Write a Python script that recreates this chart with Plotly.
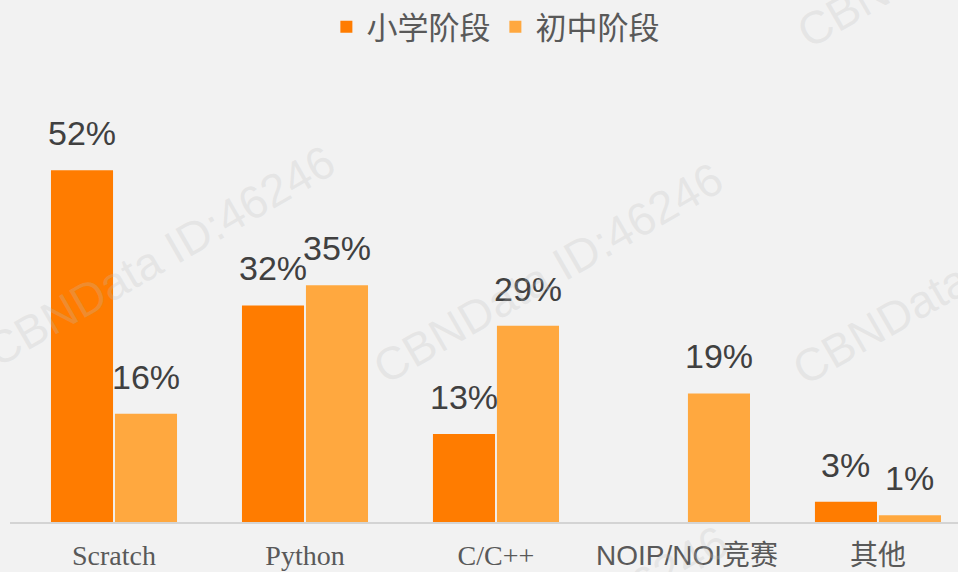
import plotly.graph_objects as go

categories = ["Scratch", "Python", "C/C++", "NOIP/NOI竞赛", "其他"]
primary = [52, 32, 13, None, 3]      # 小学阶段
secondary = [16, 35, 29, 19, 1]     # 初中阶段
series_names = ["小学阶段", "初中阶段"]
serif_cats = {"Scratch", "Python", "C/C++"}

ORANGE = "#FF7C00"
LIGHT = "#FFA83F"
LABEL = "#404040"
TICK = "#595959"

ticktext = []
for c in categories:
    if c in serif_cats:
        ticktext.append('<span style="font-family:Liberation Serif,serif;font-size:28px">' + c + '</span>')
    else:
        ticktext.append(c)

fig = go.Figure()
fig.add_trace(go.Bar(x=list(range(len(categories))), y=primary, name=series_names[0],
                     marker=dict(color=ORANGE, line=dict(width=0))))
fig.add_trace(go.Bar(x=list(range(len(categories))), y=secondary, name=series_names[1],
                     marker=dict(color=LIGHT, line=dict(width=0))))

# value labels above bars
bargap = 0.33
slot = (1 - bargap) / 2
annotations = []
for vals, off in ((primary, -slot / 2), (secondary, slot / 2)):
    for i, v in enumerate(vals):
        if v is None:
            continue
        annotations.append(dict(x=i + off, y=v, xref="x", yref="y", text=f"{v}%",
                                showarrow=False, yanchor="bottom", yshift=16,
                                font=dict(family="Liberation Sans, Arial", size=34, color=LABEL)))

# faint watermarks
wm = dict(xref="paper", yref="paper", showarrow=False, textangle=-30,
          xanchor="center", yanchor="middle",
          font=dict(family="Liberation Sans, Arial", size=46, color="rgba(190,190,190,0.25)"))
for (wx, wy) in [(0.158, 0.656), (0.5675, 0.614), (1.01, 0.612), (1.015, 1.44), (0.573, -0.28)]:
    annotations.append(dict(x=wx, y=wy, text="CBNData ID:46246", **wm))

fig.update_layout(
    width=958, height=572,
    margin=dict(l=10, r=0, t=115, b=50),
    paper_bgcolor="#F2F2F2", plot_bgcolor="rgba(0,0,0,0)",
    barmode="group", bargap=bargap, bargroupgap=0.03,
    showlegend=True,
    legend=dict(orientation="h", x=0.512, xanchor="center", y=1.22, yanchor="middle",
                font=dict(family="Noto Sans CJK SC", size=31, color=TICK),
                bgcolor="rgba(0,0,0,0)", itemclick=False),
    annotations=annotations,
    xaxis=dict(tickmode="array", tickvals=list(range(len(categories))), ticktext=ticktext,
               range=[-0.5445, 4.419], showline=True, linecolor="#D4D4D4", linewidth=2,
               ticks="", showgrid=False, zeroline=False, ticklabelstandoff=7, automargin=False,
               tickfont=dict(family="Liberation Sans, Noto Sans CJK SC", size=28, color=TICK)),
    yaxis=dict(range=[0, 60], visible=False, showgrid=False, zeroline=False, automargin=False),
)

fig.write_html("out.html", config={"displayModeBar": False},
               post_script="document.body.style.margin='0';document.body.style.overflow='hidden';")
